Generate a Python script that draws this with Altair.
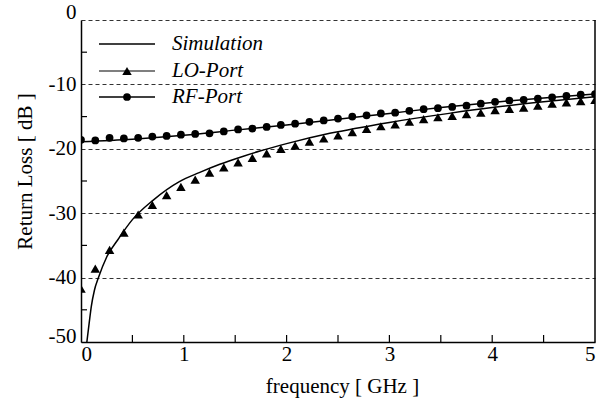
import altair as alt
import pandas as pd

# ---- data ----
freq_meas = [0.0, 0.139, 0.278, 0.417, 0.556, 0.694, 0.833, 0.972, 1.111, 1.25,
             1.389, 1.528, 1.667, 1.806, 1.944, 2.083, 2.222, 2.361, 2.5, 2.639,
             2.778, 2.917, 3.056, 3.194, 3.333, 3.472, 3.611, 3.75, 3.889, 4.028,
             4.167, 4.306, 4.444, 4.583, 4.722, 4.861, 5.0]
lo_port = [-41.7, -38.6, -35.7, -33.0, -30.2, -28.7, -27.2, -25.9, -24.8, -23.7,
           -22.9, -22.1, -21.4, -20.7, -20.0, -19.5, -18.9, -18.4, -17.9, -17.4,
           -16.9, -16.5, -16.2, -15.8, -15.4, -15.1, -14.9, -14.6, -14.4, -14.0,
           -13.8, -13.6, -13.3, -13.0, -12.8, -12.6, -12.4]
rf_port = [-18.6, -18.7, -18.3, -18.4, -18.3, -18.1, -18.0, -17.8, -17.7, -17.6,
           -17.3, -17.0, -16.85, -16.6, -16.3, -16.1, -15.8, -15.6, -15.3, -15.0,
           -14.8, -14.5, -14.4, -14.1, -13.85, -13.7, -13.5, -13.3, -13.0, -12.7,
           -12.5, -12.4, -12.2, -12.0, -11.8, -11.6, -11.5]

sim_lo_freq = [0.057, 0.08, 0.10, 0.13, 0.17, 0.25, 0.355, 0.5, 0.7, 0.957,
               1.15, 1.35, 1.55, 1.74, 2.0, 2.42, 3.0, 3.58, 4.0, 4.5, 5.0]
sim_lo = [-50.0, -47.0, -44.5, -42.0, -40.0, -36.8, -34.2, -31.0, -28.0, -25.1,
          -23.7, -22.4, -21.3, -20.35, -19.2, -17.6, -15.9, -14.5, -13.6, -12.7, -11.9]

sim_rf_freq = [0.0, 0.5, 1.0, 1.5, 2.0, 2.5, 3.0, 3.5, 4.0, 4.5, 5.0]
sim_rf = [-18.9, -18.5, -17.9, -17.1, -16.3, -15.4, -14.5, -13.6, -12.8, -12.1, -11.5]

y_major = [0, -10, -20, -30, -40, -50]
y_minor = [-45, -35, -25, -15, -5]
x_major = [0, 1, 2, 3, 4, 5]
x_inner_ticks = [0.5, 1, 1.5, 2, 2.5, 3, 3.5, 4, 4.5]
legend_labels = ["Simulation", "LO-Port", "RF-Port"]

FONT = "Liberation Serif"
W, H = 514, 322

meas_df = pd.DataFrame({"f": freq_meas, "lo": lo_port, "rf": rf_port})
sim_lo_df = pd.DataFrame({"f": sim_lo_freq, "db": sim_lo})
sim_rf_df = pd.DataFrame({"f": sim_rf_freq, "db": sim_rf})

xscale = alt.Scale(domain=[0, 5], nice=False, zero=False)
yscale = alt.Scale(domain=[-50, 0], nice=False, zero=False)

xaxis = alt.Axis(values=x_major, tickSize=0, grid=False, labelFont=FONT, labelFontSize=21,
                 labelBaseline="top", labelPadding=1, labelColor="black",
                 domainColor="black", domainWidth=1.5,
                 title="frequency [ GHz ]", titleFont=FONT, titleFontSize=21,
                 titleFontWeight="normal", titleColor="black",
                 titleX=261, titleY=44, titleBaseline="middle", titleAlign="center")
yaxis = alt.Axis(values=y_major, tickSize=0, grid=True, gridDash=[4, 3], gridColor="#333333",
                 gridWidth=1, labelFont=FONT, labelFontSize=21, labelPadding=5,
                 labelColor="black", labelExpr="'' + datum.value",
                 labelOffset={"condition": [{"test": "datum.value == -50", "value": -6},
                                            {"test": "datum.value == 0", "value": -8}],
                              "value": 0},
                 domainColor="black", domainWidth=1.5,
                 title="Return Loss [ dB ]", titleFont=FONT, titleFontSize=21,
                 titleFontWeight="normal", titleColor="black",
                 titleX=-56, titleY=151, titleAngle=-90, titleBaseline="middle",
                 titleAlign="center")


def X(field):
    return alt.X(field, scale=xscale, axis=xaxis, title="frequency [ GHz ]")


def Y(field):
    return alt.Y(field, scale=yscale, axis=yaxis, title="Return Loss [ dB ]")


sim_lo_line = alt.Chart(sim_lo_df).mark_line(
    color="black", strokeWidth=1.5, interpolate="monotone", clip=True
).encode(x=X("f:Q"), y=Y("db:Q"))

sim_rf_line = alt.Chart(sim_rf_df).mark_line(
    color="black", strokeWidth=1.5, interpolate="monotone", clip=True
).encode(x=X("f:Q"), y=Y("db:Q"))

lo_pts = alt.Chart(meas_df).mark_point(
    shape="triangle-up", filled=True, size=90, color="black", opacity=1, clip=True
).encode(x=X("f:Q"), y=Y("lo:Q"))

rf_pts = alt.Chart(meas_df).mark_point(
    shape="circle", filled=True, size=60, color="black", opacity=1, clip=True
).encode(x=X("f:Q"), y=Y("rf:Q"))

# inward ticks
ytick_df = pd.DataFrame({"v": y_minor})
yticks = alt.Chart(ytick_df).mark_rule(color="black", strokeWidth=1.2).encode(
    y=Y("v:Q"), x=alt.value(0), x2=alt.value(6),
)
xtick_df = pd.DataFrame({"v": x_inner_ticks})
xticks = alt.Chart(xtick_df).mark_rule(color="black", strokeWidth=1.2).encode(
    x=X("v:Q"), y=alt.value(H), y2=alt.value(H - 7),
)

one = pd.DataFrame({"a": [0]})
right_border = alt.Chart(one).mark_rule(color="black", strokeWidth=1.5).encode(
    x=alt.value(W), y=alt.value(0), y2=alt.value(H)
)

# manual legend
leg_y = [24, 51, 77]
leg_colors = ["black", "#555555", "black"]
leg_layers = []
for i, lab in enumerate(legend_labels):
    ly = leg_y[i]
    leg_layers.append(
        alt.Chart(one).mark_rule(color=leg_colors[i], strokeWidth=1.5).encode(
            x=alt.value(18), x2=alt.value(74), y=alt.value(ly))
    )
    leg_layers.append(
        alt.Chart(pd.DataFrame({"label": [lab]})).mark_text(
            font=FONT, fontSize=21, fontStyle="italic", align="left", baseline="middle",
            color="black"
        ).encode(text="label:N", x=alt.value(91), y=alt.value(ly))
    )
leg_layers.append(
    alt.Chart(one).mark_point(shape="triangle-up", filled=True, size=90, color="black",
                              opacity=1).encode(x=alt.value(46), y=alt.value(leg_y[1]))
)
leg_layers.append(
    alt.Chart(one).mark_point(shape="circle", filled=True, size=60, color="black",
                              opacity=1).encode(x=alt.value(46), y=alt.value(leg_y[2]))
)

chart = alt.layer(
    sim_lo_line, sim_rf_line, lo_pts, rf_pts, yticks, xticks, right_border, *leg_layers
).properties(
    width=W, height=H,
    autosize=alt.AutoSizeParams(type="none"),
    padding={"left": 81, "top": 20, "right": 10, "bottom": 58},
    background="white",
).configure_view(stroke=None)

chart.save("out.html", embed_options={"renderer": "svg", "actions": False})
